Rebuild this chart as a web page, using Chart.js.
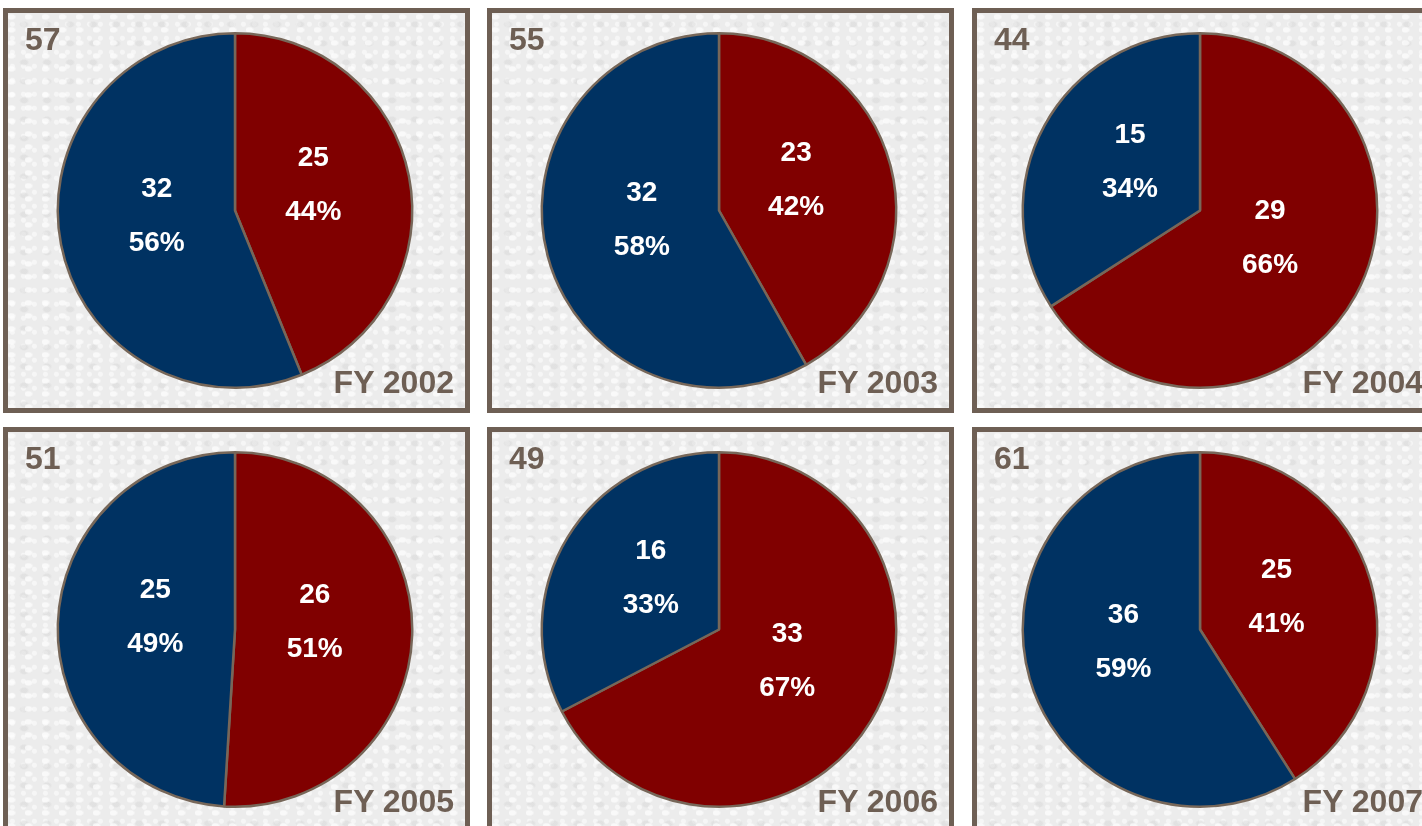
<!DOCTYPE html>
<html>
<head>
<meta charset="utf-8">
<script src="https://cdn.jsdelivr.net/npm/chart.js@4.4.0/dist/chart.umd.min.js"></script>
<style>
  html, body { margin: 0; padding: 0; background: #ffffff; width: 1422px; height: 826px; overflow: hidden; }
  .panel {
    position: absolute; width: 467px; height: 405px; box-sizing: border-box;
    border: 5px solid #6e5f54; background: #ececec;
    background-image:
      radial-gradient(ellipse at 20% 30%, rgba(255,255,255,0.7) 0 3px, transparent 5px),
      radial-gradient(ellipse at 70% 60%, rgba(205,205,205,0.35) 0 3px, transparent 5px),
      radial-gradient(circle at 40% 80%, rgba(255,255,255,0.55) 0 2px, transparent 3px);
    background-size: 17px 13px, 23px 19px, 11px 14px;
  }
  .panel canvas { position: absolute; left: 0; top: 0; }
  .count, .year {
    position: absolute; font-family: "Liberation Sans", Arial, sans-serif; font-weight: bold;
    font-size: 32px; color: #6e5f54; line-height: 1;
  }
  .count { left: 17px; top: 10px; }
  .year { right: 11px; bottom: 10px; }
</style>
</head>
<body>
<script>
// ---- data ----
const years = ['FY 2002', 'FY 2003', 'FY 2004', 'FY 2005', 'FY 2006', 'FY 2007'];
const redValues = [25, 23, 29, 26, 33, 25];
const blueValues = [32, 32, 15, 25, 16, 36];
const sliceColors = ['#800000', '#003262'];

const colLefts = [3, 487, 972];
const rowTops = [8, 427];
const colRightPad = [3, 3, 11];

const labelPlugin = {
  id: 'sliceLabels',
  afterDatasetsDraw(chart) {
    const ctx = chart.ctx;
    const meta = chart.getDatasetMeta(0);
    const data = chart.data.datasets[0].data;
    const total = data.reduce((a, b) => a + b, 0);
    ctx.save();
    ctx.fillStyle = '#ffffff';
    ctx.font = 'bold 28px "Liberation Sans", Arial, sans-serif';
    ctx.textAlign = 'center';
    ctx.textBaseline = 'middle';
    meta.data.forEach((arc, i) => {
      const p = arc.getProps(['x', 'y', 'startAngle', 'endAngle', 'outerRadius'], true);
      const mid = (p.startAngle + p.endAngle) / 2;
      const r = p.outerRadius * 0.45;
      const cx = p.x + Math.cos(mid) * r;
      const cy = p.y + Math.sin(mid) * r - 10;
      ctx.fillText(String(data[i]), cx, cy - 27);
      ctx.fillText(Math.round(data[i] / total * 100) + '%', cx, cy + 27);
    });
    ctx.restore();
  }
};

years.forEach((yr, i) => {
  const panel = document.createElement('div');
  panel.className = 'panel';
  panel.style.left = colLefts[i % 3] + 'px';
  panel.style.top = rowTops[Math.floor(i / 3)] + 'px';
  const canvas = document.createElement('canvas');
  canvas.width = 457; canvas.height = 395;
  canvas.style.width = '457px'; canvas.style.height = '395px';
  panel.appendChild(canvas);
  const count = document.createElement('div');
  count.className = 'count';
  count.textContent = String(redValues[i] + blueValues[i]);
  panel.appendChild(count);
  const year = document.createElement('div');
  year.className = 'year';
  year.textContent = yr;
  panel.appendChild(year);
  document.body.appendChild(panel);

  new Chart(canvas, {
    type: 'pie',
    data: {
      labels: ['Red', 'Blue'],
      datasets: [{
        data: [redValues[i], blueValues[i]],
        backgroundColor: sliceColors,
        borderColor: '#776759',
        borderWidth: 2.5
      }]
    },
    options: {
      responsive: false,
      animation: false,
      layout: { padding: { top: 19, bottom: 19, left: 0, right: colRightPad[i % 3] } },
      plugins: { legend: { display: false }, tooltip: { enabled: false } }
    },
    plugins: [labelPlugin]
  });
});
</script>
</body>
</html>
